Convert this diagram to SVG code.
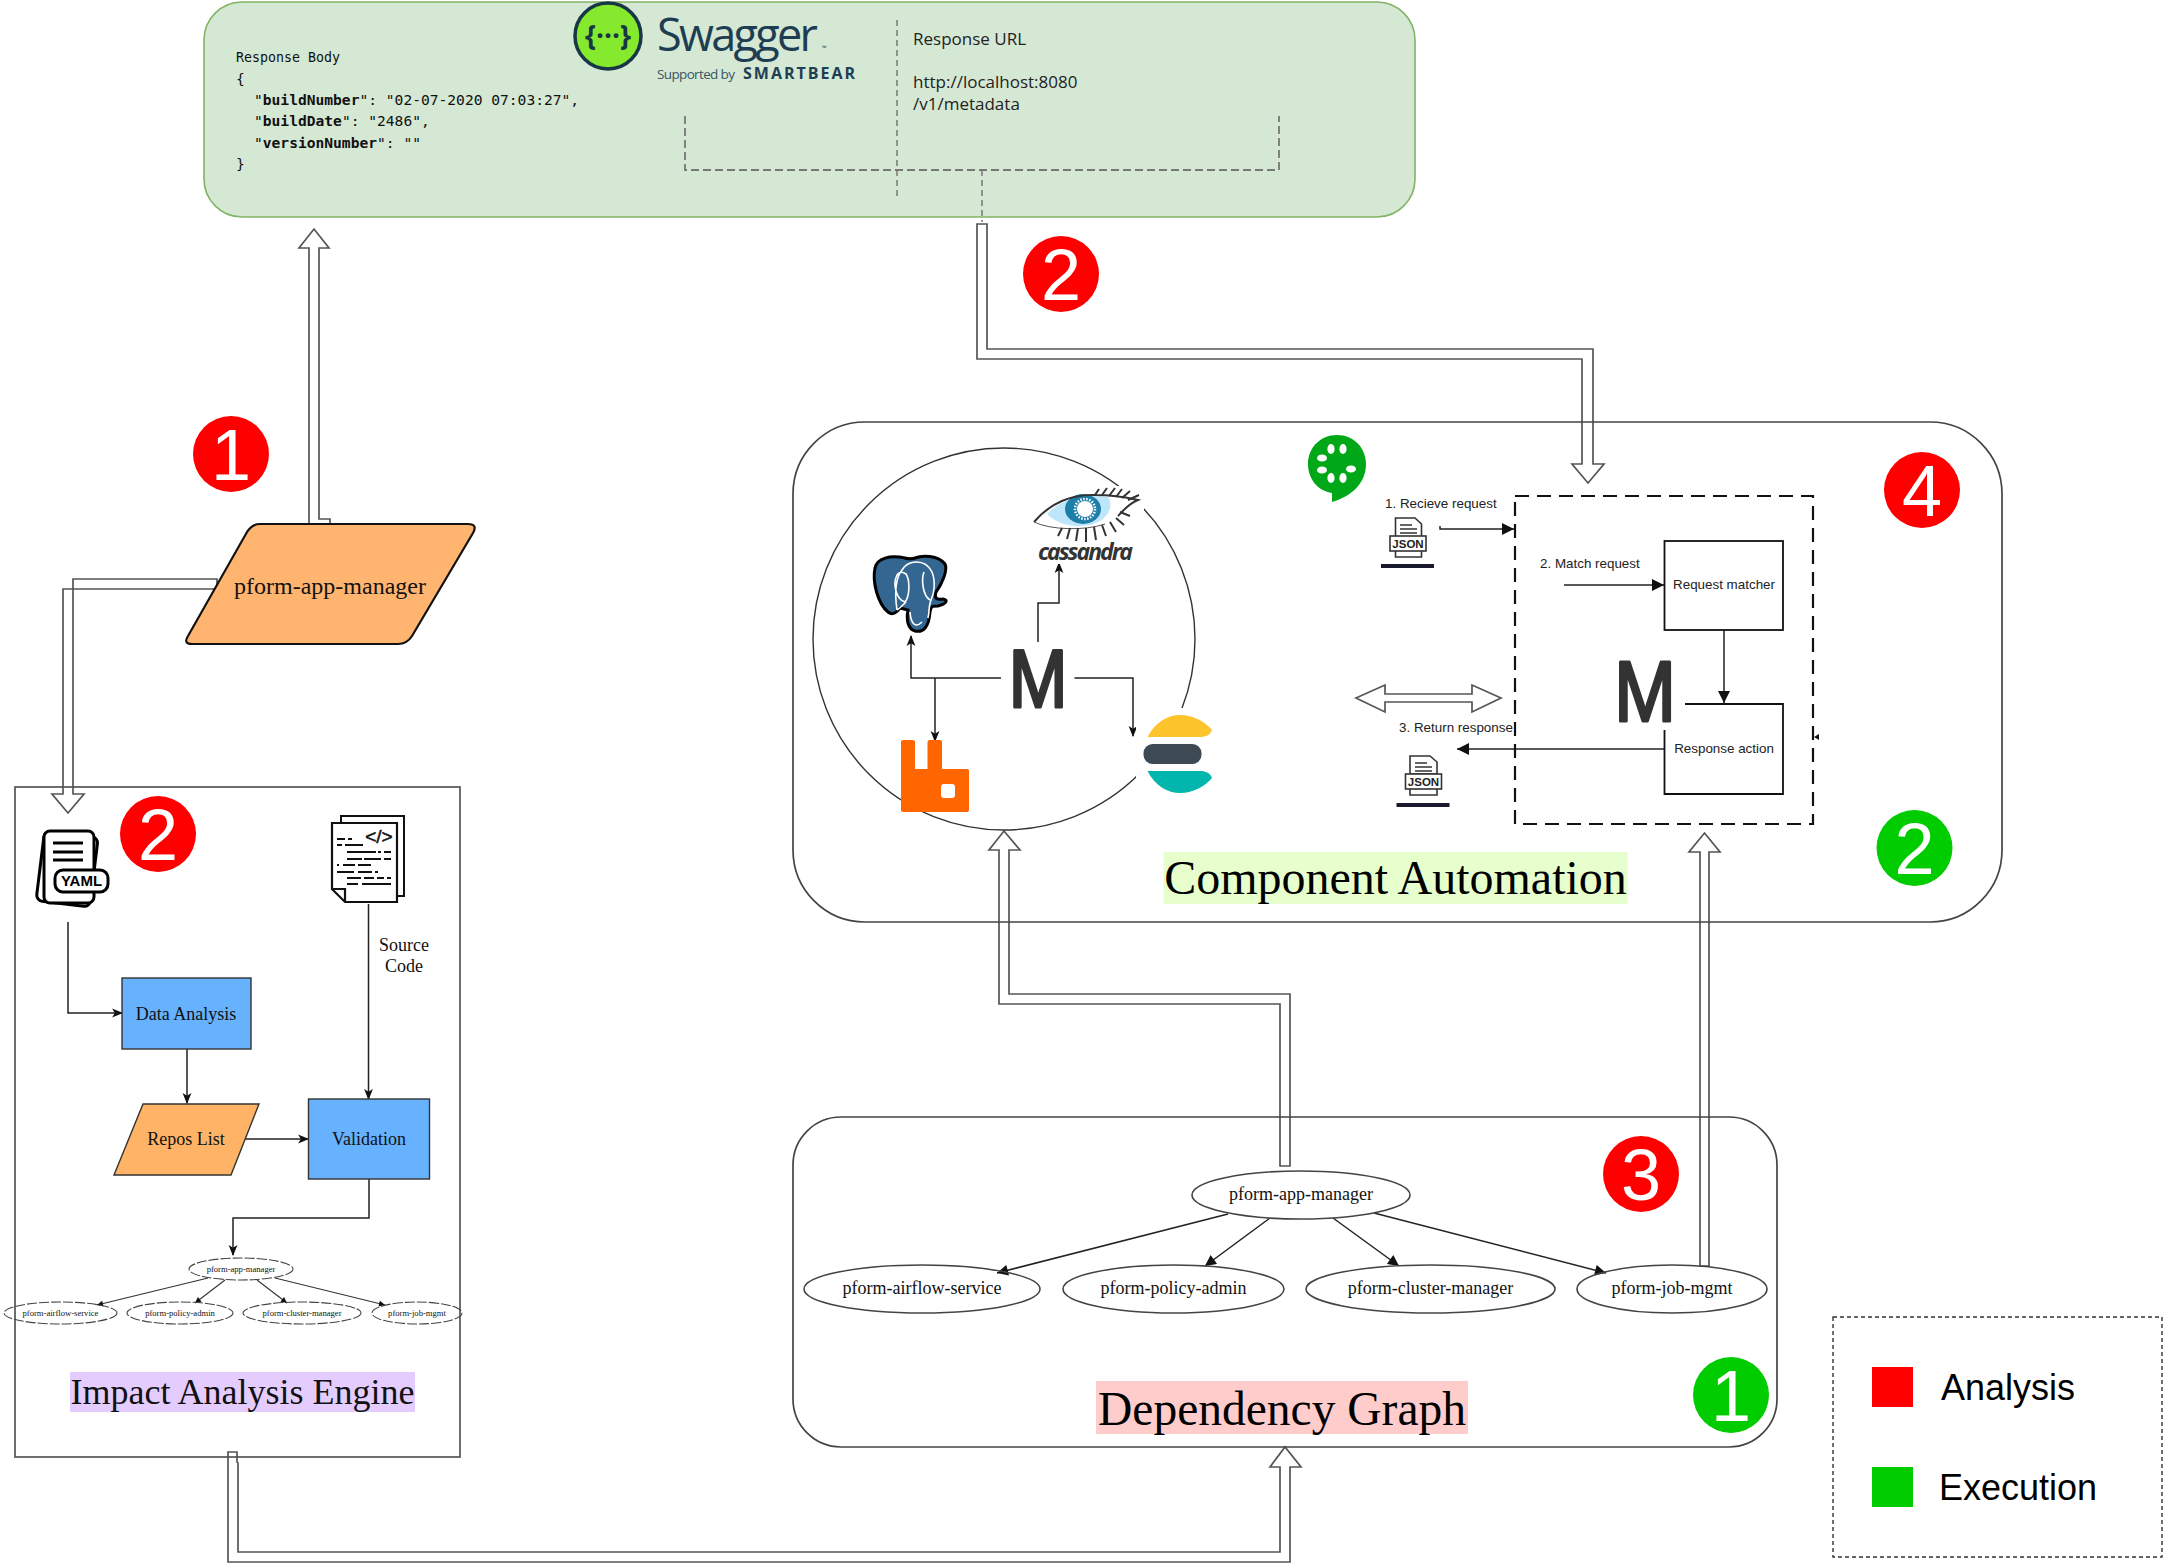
<svg xmlns="http://www.w3.org/2000/svg" width="2166" height="1566" viewBox="0 0 2166 1566">
<style>
.serif{font-family:"Liberation Serif","Times New Roman",serif;fill:#111}
.sans{font-family:"Liberation Sans",Arial,sans-serif;fill:#222}
.open{font-family:"Open Sans","Liberation Sans",sans-serif}
.mono{font-family:"DejaVu Sans Mono","Liberation Mono",monospace;font-size:14.6px;fill:#111}
.mid{text-anchor:middle}
.tube{fill:#fff;stroke:#555;stroke-width:1.7}
.line{fill:none;stroke:#222;stroke-width:1.5}
.thin{fill:none;stroke:#333;stroke-width:1.1}
.ell{fill:none;stroke:#444;stroke-width:1.6}
.sm{fill:none;stroke:#444;stroke-width:1.1;stroke-dasharray:10 2}
.num{font-family:"Liberation Sans",Arial,sans-serif;font-size:72px;fill:#fff;text-anchor:middle}
.r{fill:#f00}.g{fill:#0c0}
.blue{fill:#66B2FF;stroke:#333;stroke-width:1.4}
.org{fill:#FFB366;stroke:#333;stroke-width:1.4}
.M{font-family:"Liberation Sans",Arial,sans-serif;fill:#333;stroke:#333;stroke-width:3;stroke-linejoin:round;text-anchor:middle}
.ic{fill:#fff;stroke:#333;stroke-width:1.6}
.icl{fill:none;stroke:#333;stroke-width:1.4}
.cd{fill:none;stroke:#111;stroke-width:2}
</style>
<defs>
<marker id="st" viewBox="0 0 10 10" refX="9" refY="5" markerUnits="userSpaceOnUse" markerWidth="11" markerHeight="11" orient="auto"><path d="M0 1L10 5L0 9L2.5 5Z" fill="#111"/></marker>
<marker id="tr" viewBox="0 0 10 10" refX="10" refY="5" markerUnits="userSpaceOnUse" markerWidth="14" markerHeight="12" orient="auto"><path d="M0 0L10 5L0 10Z" fill="#111"/></marker>
<marker id="gv" viewBox="0 0 10 10" refX="10" refY="5" markerUnits="userSpaceOnUse" markerWidth="14" markerHeight="11" orient="auto"><path d="M0 0L10 5L0 10Z" fill="#111"/></marker>
<marker id="tn" viewBox="0 0 10 10" refX="10" refY="5" markerUnits="userSpaceOnUse" markerWidth="7" markerHeight="6" orient="auto"><path d="M0 0L10 5L0 10Z" fill="#111"/></marker>
</defs>
<rect width="2166" height="1566" fill="#fff"/>

<g id="connectors">
<path class="tube" d="M309 524V248H299L314 229L329 248H319V519H330V524Z"/>
<path class="tube" d="M217 579H73V794H84L68 813L52 794H63V589H217Z"/>
<path class="tube" d="M977 224V359H1582V464H1572L1588 483L1604 464H1593V349H987V224Z"/>
<path class="tube" d="M228 1452H237V1462L238 1463V1552H1280V1467H1270L1285 1447L1301 1467H1290V1562H228Z"/>
<path class="tube" d="M999 1004H1280V1166H1290V994H1009V850H1020L1004 831L989 850H999Z"/>
<path class="tube" d="M1700 1266V852H1689L1704.5 833L1720 852H1709V1266Z"/>
<path class="tube" d="M1356 698L1385 685V694H1472V685L1501 698L1472 712V702H1385V712Z"/>
<path class="line" marker-end="url(#st)" d="M68 922V1013H122"/>
<path class="line" marker-end="url(#st)" d="M187 1049V1103"/>
<path class="line" marker-end="url(#st)" d="M245 1139H308"/>
<path class="line" marker-end="url(#st)" d="M368.5 904V1099"/>
<path class="line" marker-end="url(#st)" d="M369 1179V1218H233V1255"/>
<path class="thin" marker-end="url(#tn)" d="M208 1278L97 1305"/>
<path class="thin" marker-end="url(#tn)" d="M225 1280L195 1303"/>
<path class="thin" marker-end="url(#tn)" d="M257 1280L287 1303"/>
<path class="thin" marker-end="url(#tn)" d="M275 1278L385 1305"/>
<path class="line" marker-end="url(#gv)" d="M1228 1214L997 1273"/>
<path class="line" marker-end="url(#gv)" d="M1270 1218L1205 1266"/>
<path class="line" marker-end="url(#gv)" d="M1333 1218L1399 1266"/>
<path class="line" marker-end="url(#gv)" d="M1374 1213L1606 1273"/>
<path class="line" marker-end="url(#st)" d="M1001 678H911V636"/>
<path class="line" marker-end="url(#st)" d="M935 678V741"/>
<path class="line" marker-end="url(#st)" d="M1074.5 678H1133V736"/>
<path class="line" marker-end="url(#st)" d="M1038 642V603H1059V563"/>
<path class="line" stroke-width="2" marker-end="url(#tr)" d="M1440 526V529H1514"/>
<path class="line" stroke-width="2" marker-end="url(#tr)" d="M1564 585H1664"/>
<path class="line" stroke-width="2" marker-end="url(#tr)" d="M1724 630V703"/>
<path class="line" stroke-width="2" marker-end="url(#tr)" d="M1664 749H1457"/>
<path d="M1814 737L1819 734V740Z" fill="#111"/>
</g>

<g id="swagger-panel">
<rect x="204" y="2" width="1211" height="215" rx="38" fill="#D5E8D4" stroke="#82B366" stroke-width="1.6"/>
<path d="M897 20V200M982 170V222" fill="none" stroke="#777" stroke-width="1.5" stroke-dasharray="6 4"/>
<path d="M685 116V170H1279V116" fill="none" stroke="#777" stroke-width="1.8" stroke-dasharray="8 4"/>
<circle cx="608" cy="36" r="33" fill="#85EA2D" stroke="#173646" stroke-width="3.5"/>
<text x="608" y="46" class="open mid" font-size="28" font-weight="700" fill="#173646">{···}</text>
<text x="657" y="51" class="open" font-size="45" fill="#1F3D52" textLength="161">Swagger</text>
<text x="822" y="50" class="open" font-size="6" fill="#1F3D52">™</text>
<text x="657" y="79" class="open" font-size="13.5" fill="#3A5566" textLength="78">Supported by</text>
<text x="743" y="79" class="open" font-size="16" font-weight="700" fill="#1F3D52" textLength="112">SMARTBEAR</text>
<text x="236" y="62" class="mono" style="font-size:13.3px">Response Body</text>
<text x="236" y="84" class="mono">{</text>
<text x="254" y="105" class="mono">"<tspan font-weight="700">buildNumber</tspan>": "02-07-2020 07:03:27",</text>
<text x="254" y="126" class="mono">"<tspan font-weight="700">buildDate</tspan>": "2486",</text>
<text x="254" y="148" class="mono">"<tspan font-weight="700">versionNumber</tspan>": ""</text>
<text x="236" y="169" class="mono">}</text>
<text x="913" y="45" class="open" font-size="17" fill="#222">Response URL</text>
<text x="913" y="87.5" class="open" font-size="17" fill="#222">http://localhost:8080</text>
<text x="913" y="110" class="open" font-size="17" fill="#222">/v1/metadata</text>
</g>

<g id="badge-analysis-1"><circle class="r" cx="231" cy="454" r="38"/><text class="num" x="231" y="480">1</text></g>
<g id="badge-analysis-2-swagger"><circle class="r" cx="1061" cy="274" r="38"/><text class="num" x="1061" y="300">2</text></g>

<g id="pform-app-manager">
<path d="M260 524H468Q478 524 473 533L412 636Q407 644 398 644H192Q183 644 188 636L247 532Q252 524 260 524Z" fill="#FFB570" stroke="#111" stroke-width="2.2"/>
<text x="330" y="594" class="serif mid" font-size="24">pform-app-manager</text>
</g>

<g id="impact-analysis-engine">
<rect x="15" y="787" width="445" height="670" fill="none" stroke="#555" stroke-width="1.7"/>
<rect x="70" y="1372" width="345" height="40" fill="#E5CCFF"/>
<text x="242.5" y="1404" class="serif mid" font-size="36">Impact Analysis Engine</text>
</g>

<g id="yaml-icon">
<rect x="40" y="834" width="54" height="70" rx="6" transform="rotate(7 67 870)" fill="#fff" stroke="#000" stroke-width="3"/>
<rect x="44" y="831" width="50" height="72" rx="6" fill="#fff" stroke="#000" stroke-width="3"/>
<path d="M53 843H83M53 852H83M53 860H83" stroke="#000" stroke-width="3" fill="none"/>
<rect x="55" y="870" width="53" height="22" rx="8" fill="#fff" stroke="#000" stroke-width="3"/>
<text x="81.5" y="886" class="sans mid" font-size="15" font-weight="700" style="fill:#000">YAML</text>
</g>
<g id="badge-analysis-2-engine"><circle class="r" cx="158" cy="834" r="38"/><text class="num" x="158" y="860">2</text></g>
<g id="code-icon">
<rect x="341" y="816" width="63" height="80" fill="#fff" stroke="#111" stroke-width="2"/>
<path d="M332 823H397V902H345L332 889ZM332 889H345V902" fill="#fff" stroke="#111" stroke-width="2.2"/>
<text x="379" y="843" class="sans mid" font-size="19" style="fill:#111;stroke:#111;stroke-width:.5">&lt;/&gt;</text>
<path class="cd" d="M337 839H345M348 839H352M337 845H342M345 845H363M347 852H376M378 852H381M384 852H391M347 859H362M364 859H381M384 859H391M337 865H339M343 865H355M358 865H371M337 872H354M358 872H372M375 872H378M347 878H361M364 878H374M377 878H384M387 878H391M347 884H358M362 884H391"/>
</g>
<g id="source-code-label">
<text x="404" y="951" class="serif mid" font-size="18">Source</text>
<text x="404" y="972" class="serif mid" font-size="18">Code</text>
</g>
<g id="data-analysis"><rect class="blue" x="122" y="978" width="129" height="71"/><text x="186" y="1020" class="serif mid" font-size="18">Data Analysis</text></g>
<g id="repos-list"><path class="org" d="M143 1104H259L231 1175H114Z"/><text x="186" y="1145" class="serif mid" font-size="18">Repos List</text></g>
<g id="validation"><rect class="blue" x="308.5" y="1099" width="121" height="80"/><text x="369" y="1145" class="serif mid" font-size="18">Validation</text></g>
<g id="mini-app-manager"><ellipse class="sm" cx="241" cy="1269" rx="52" ry="11"/><text x="241" y="1272" class="serif mid" font-size="8.6">pform-app-manager</text></g>
<g id="mini-airflow"><ellipse class="sm" cx="60.5" cy="1313" rx="56.5" ry="11"/><text x="60.5" y="1316" class="serif mid" font-size="8.6">pform-airflow-service</text></g>
<g id="mini-policy"><ellipse class="sm" cx="180" cy="1313" rx="53" ry="11"/><text x="180" y="1316" class="serif mid" font-size="8.6">pform-policy-admin</text></g>
<g id="mini-cluster"><ellipse class="sm" cx="302" cy="1313" rx="59" ry="11"/><text x="302" y="1316" class="serif mid" font-size="8.6">pform-cluster-manager</text></g>
<g id="mini-job"><ellipse class="sm" cx="417" cy="1313" rx="45" ry="11"/><text x="417" y="1316" class="serif mid" font-size="8.6">pform-job-mgmt</text></g>

<g id="dependency-graph">
<rect x="793" y="1117" width="984" height="330" rx="48" fill="none" stroke="#444" stroke-width="1.7"/>
<rect x="1096" y="1381" width="372" height="53" fill="#FFCCCC"/>
<text x="1282" y="1425" class="serif mid" font-size="47.5" style="fill:#000">Dependency Graph</text>
</g>
<g id="dg-app-manager"><ellipse class="ell" cx="1301" cy="1195" rx="109" ry="24"/><text x="1301" y="1200" class="serif mid" font-size="18">pform-app-manager</text></g>
<g id="dg-airflow"><ellipse class="ell" cx="922" cy="1289" rx="118" ry="24"/><text x="922" y="1294" class="serif mid" font-size="18">pform-airflow-service</text></g>
<g id="dg-policy"><ellipse class="ell" cx="1173.5" cy="1289" rx="110.5" ry="24"/><text x="1173.5" y="1294" class="serif mid" font-size="18">pform-policy-admin</text></g>
<g id="dg-cluster"><ellipse class="ell" cx="1430.5" cy="1289" rx="124.5" ry="24"/><text x="1430.5" y="1294" class="serif mid" font-size="18">pform-cluster-manager</text></g>
<g id="dg-job"><ellipse class="ell" cx="1672" cy="1289" rx="95" ry="24"/><text x="1672" y="1294" class="serif mid" font-size="18">pform-job-mgmt</text></g>
<g id="badge-analysis-3"><circle class="r" cx="1641" cy="1174" r="38"/><text class="num" x="1641" y="1200">3</text></g>
<g id="badge-execution-1"><circle class="g" cx="1731" cy="1395" r="38"/><text class="num" x="1731" y="1421">1</text></g>

<g id="component-automation">
<rect x="793" y="422" width="1209" height="500" rx="72" fill="none" stroke="#444" stroke-width="1.7"/>
<rect x="1163.5" y="852" width="464" height="52" fill="#E6FFCC"/>
<text x="1395.5" y="894" class="serif mid" font-size="48" style="fill:#000">Component Automation</text>
</g>
<g id="database-ring"><circle cx="1004" cy="639" r="191" fill="none" stroke="#333" stroke-width="1.4"/></g>

<g id="cassandra">
<rect x="1030" y="486" width="114" height="78" fill="#fff"/>
<path d="M1034 522C1050 503 1072 494 1095 495C1112 495 1125 497 1138 500C1128 506 1122 518 1105 524C1085 531 1050 530 1034 522Z" fill="#fff"/>
<path d="M1047 514C1062 498 1085 494 1108 497C1115 508 1106 521 1090 525C1075 528 1058 525 1047 514Z" fill="#BEE6FA"/>
<ellipse cx="1083" cy="509" rx="18" ry="15" fill="#1D7EA8"/>
<circle cx="1085" cy="509" r="8" fill="#fff"/>
<circle cx="1085" cy="509" r="10" fill="none" stroke="#fff" stroke-width="2.5" stroke-dasharray="1.5 1.5"/>
<path d="M1034 522C1050 503 1072 494 1095 495C1112 495 1125 497 1138 500C1128 504 1124 510 1118 516" fill="none" stroke="#333" stroke-width="2"/>
<path d="M1034 522C1050 530 1085 531 1105 524" fill="none" stroke="#555" stroke-width="1"/>
<path d="M1095 495L1099 489M1102 495L1107 488M1109 496L1115 488M1116 497L1122 489M1122 498L1130 491M1128 500L1139 495M1120 512L1130 516M1116 518L1124 525M1110 522L1116 532M1102 525L1106 536M1094 527L1096 540M1086 528L1086 542M1078 528L1076 541M1070 528L1067 539M1062 528L1058 536" stroke="#333" stroke-width="2" fill="none"/>
<text x="1038" y="560" class="open" font-size="23" font-weight="700" font-style="italic" fill="#333" textLength="95">cassandra</text>
</g>
<g id="postgres">
<path d="M905 558C890 555 877 558 875 568C872 582 878 604 888 612C893 616 897 612 900 608L908 610C906 620 908 629 915 631C924 633 929 626 930 612C931 606 932 606 938 606C946 604 949 600 943 599C936 600 934 598 936 592C942 584 948 570 945 564C938 555 922 555 915 558C912 559 908 559 905 558Z" fill="#336791" stroke="#000" stroke-width="3"/>
<path d="M897 610C895 596 894 580 902 570C908 560 925 558 932 572C936 582 934 594 931 600C928 607 930 610 928 618M897 575C892 585 897 600 905 602C910 596 910 580 906 574C902 571 899 572 897 575ZM924 572C921 580 923 596 930 600M906 602C902 606 900 608 897 610M922 622C916 628 911 625 910 612" fill="none" stroke="#fff" stroke-width="1.6"/>
</g>
<g id="rabbitmq"><path d="M903 740H913Q915 740 915 742V769H927.5V742Q927.5 740 930 740H940Q942 740 942 742V769H967Q969 769 969 771V810Q969 812 967 812H903Q901 812 901 810V742Q901 740 903 740ZM944 784Q941 784 941 787V795Q941 798 944 798H952Q955 798 955 795V787Q955 784 952 784Z" fill="#FF6600" fill-rule="evenodd"/></g>
<g id="elasticsearch">
<rect x="1136" y="708" width="84" height="92" fill="#fff"/>
<path d="M1147.5 737C1155 722 1168 715 1180 715C1194 715 1205 722 1212 730C1210 735 1206 737 1200 737Z" fill="#FEC42C"/>
<rect x="1143.5" y="744" width="58" height="20" rx="9" fill="#3D4A53"/>
<path d="M1147.5 771C1155 786 1168 793 1180 793C1194 793 1205 786 1212 778C1210 773 1206 771 1200 771Z" fill="#00B6AD"/>
</g>
<g id="mock-logo-db"><text class="M" x="1038" y="707" font-size="82" transform="translate(1038 0) scale(.86 1) translate(-1038 0)">M</text></g>
<g id="cucumber-logo">
<path d="M1337 435C1354 435 1366 448 1366 464C1366 484 1350 497 1332 502V493C1318 491 1308 479 1308 464C1308 448 1320 435 1337 435Z" fill="#00A818"/>
<g fill="#fff"><ellipse cx="1331" cy="449" rx="3.6" ry="5"/><ellipse cx="1343" cy="449" rx="3.6" ry="5"/><ellipse cx="1322" cy="458" rx="5" ry="3.6"/><ellipse cx="1351" cy="469" rx="5" ry="3.6"/><ellipse cx="1322" cy="470" rx="5" ry="3.6"/><ellipse cx="1331" cy="478" rx="3.6" ry="5"/><ellipse cx="1343" cy="478" rx="3.6" ry="5"/></g>
</g>
<g id="mock-dashed-box"><rect x="1515" y="496" width="298" height="328" fill="none" stroke="#111" stroke-width="2.2" stroke-dasharray="14 8"/></g>
<g id="request-matcher"><rect x="1664.5" y="541" width="118.5" height="89" fill="none" stroke="#111" stroke-width="1.8"/><text x="1724" y="589" class="sans mid" font-size="13.4">Request matcher</text></g>
<g id="response-action"><path d="M1685 704H1783V794H1664.5V730" fill="none" stroke="#111" stroke-width="1.8"/><text x="1724" y="753" class="sans mid" font-size="13.4">Response action</text></g>
<g id="mock-logo"><text class="M" x="1645" y="721" font-size="86" transform="translate(1645 0) scale(.86 1) translate(-1645 0)">M</text></g>
<g id="step-labels">
<text x="1385" y="507.5" class="sans" font-size="13.4">1. Recieve request</text>
<text x="1540" y="567.5" class="sans" font-size="13.4">2. Match request</text>
<text x="1399" y="731.5" class="sans" font-size="13.4">3. Return response</text>
</g>
<g id="json-in">
<path class="ic" d="M1395.5 518H1415L1421.5 524V537H1395.5Z"/><path class="icl" d="M1400 525H1412M1400 529H1417M1400 533H1417"/>
<path class="ic" d="M1395.5 551V557H1421.5V551"/><rect class="ic" x="1390" y="536" width="36" height="15"/>
<text x="1408" y="548" class="sans mid" font-size="11.5" font-weight="700">JSON</text>
<rect x="1381" y="564" width="53" height="4" fill="#1a1a2e"/>
</g>
<g id="json-out">
<path class="ic" d="M1410 756H1430L1437 762V774H1410Z"/><path class="icl" d="M1415 763H1427M1415 767H1432M1415 771H1432"/>
<path class="ic" d="M1410 789V795H1437V789"/><rect class="ic" x="1405.5" y="774" width="36" height="15"/>
<text x="1423.5" y="786" class="sans mid" font-size="11.5" font-weight="700">JSON</text>
<rect x="1396.5" y="803" width="53" height="4" fill="#1a1a2e"/>
</g>
<g id="badge-analysis-4"><circle class="r" cx="1922" cy="490" r="38"/><text class="num" x="1922" y="516">4</text></g>
<g id="badge-execution-2"><circle class="g" cx="1914.5" cy="848" r="38"/><text class="num" x="1914.5" y="874">2</text></g>

<g id="legend">
<rect x="1833" y="1317" width="329" height="240" fill="none" stroke="#333" stroke-width="1.4" stroke-dasharray="4 3"/>
<rect x="1872" y="1367" width="41" height="40" fill="#f00"/>
<rect x="1872" y="1467" width="41" height="40" fill="#0c0"/>
<text x="1941" y="1399.5" class="sans" font-size="36" style="fill:#000">Analysis</text>
<text x="1939" y="1499.5" class="sans" font-size="36" style="fill:#000">Execution</text>
</g>
</svg>
